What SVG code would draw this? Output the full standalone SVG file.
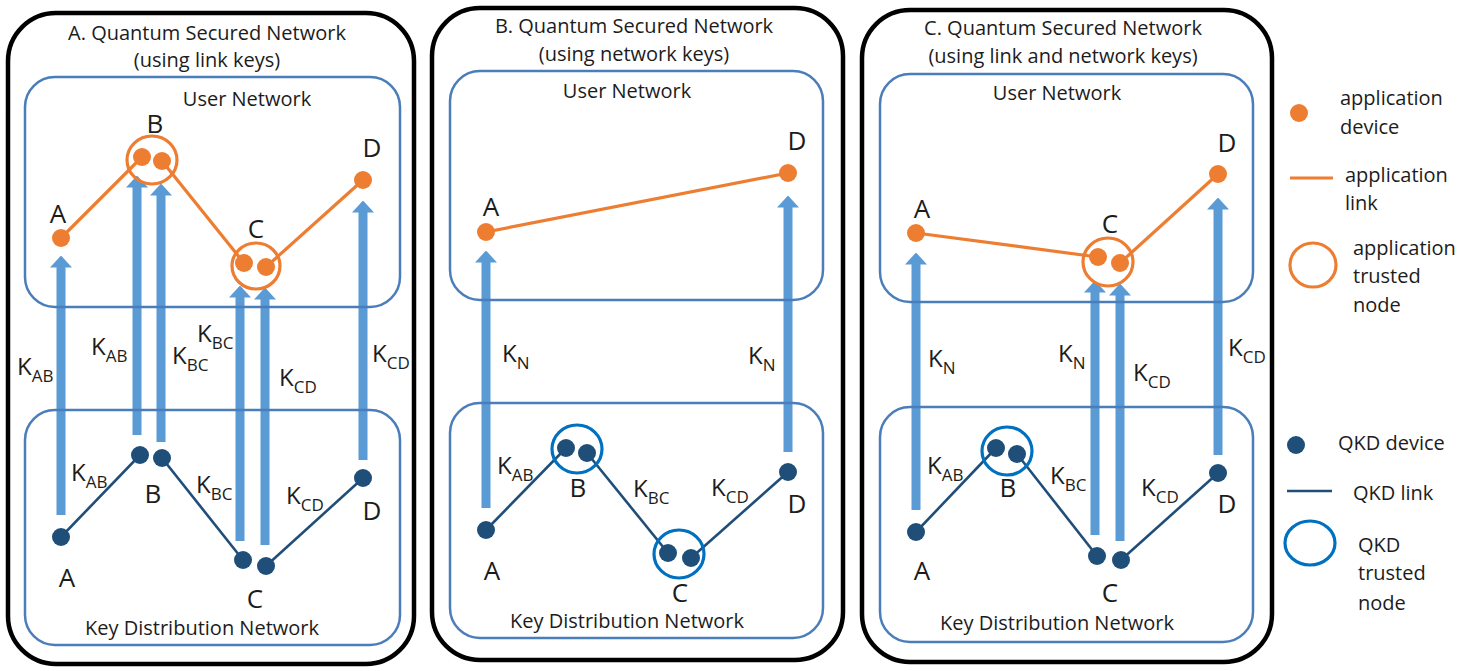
<svg xmlns="http://www.w3.org/2000/svg" width="1460" height="671" viewBox="0 0 1460 671">
  <style>
    text { font-family: "Open Sans", Lato, "Liberation Sans", sans-serif; fill: #1c1c1c; }
    .title { font-size: 20px; text-anchor: middle; }
    .box-label { font-size: 20px; text-anchor: middle; }
    .node-label { font-size: 26px; text-anchor: middle; }
    .key { font-size: 24px; }
    .key tspan { font-size: 17px; }
    .legend { font-size: 20px; }
    .frame { fill: none; stroke: #000; stroke-width: 4.5; }
    .net { fill: none; stroke: #4a7ebb; stroke-width: 2.5; }
    .key-arrow { stroke: #5b9bd5; stroke-width: 9; marker-end: url(#head); }
    .app-link { stroke: #ed7d31; stroke-width: 3.2; fill: none; }
    .qkd-link { stroke: #1f4e79; stroke-width: 2.6; fill: none; }
    .app-dev { fill: #ed7d31; }
    .qkd-dev { fill: #1f4e79; }
    .app-trust { fill: none; stroke: #ed7d31; stroke-width: 3.2; }
    .qkd-trust { fill: none; stroke: #0070c0; stroke-width: 3.2; }
  </style>
  <defs>
    <marker id="head" markerUnits="userSpaceOnUse" viewBox="0 0 12 22" markerWidth="12" markerHeight="22" refX="0.5" refY="11" orient="auto">
      <path d="M0,0 L12,11 L0,22 Z" fill="#5b9bd5"/>
    </marker>
  </defs>
  <rect width="1460" height="671" fill="#fff"/>

  <!-- ===== Panel A: link keys ===== -->
  <g id="panel-a">
    <rect class="frame" x="8" y="13" width="406" height="651" rx="48"/>
    <text class="title" x="207" y="40">A. Quantum Secured Network</text>
    <text class="title" x="207" y="67">(using link keys)</text>
  </g>
  <g id="a-connectors">
    <line class="key-arrow" x1="61" y1="515" x2="61" y2="267"/>
    <line class="key-arrow" x1="137" y1="435" x2="137" y2="187"/>
    <line class="key-arrow" x1="161" y1="442" x2="161" y2="195"/>
    <line class="key-arrow" x1="240" y1="541" x2="240" y2="297"/>
    <line class="key-arrow" x1="265" y1="545" x2="265" y2="299"/>
    <line class="key-arrow" x1="363" y1="460" x2="363" y2="212"/>
    <polyline class="app-link" points="61,238 142,157"/>
    <polyline class="app-link" points="162,161 244,263"/>
    <polyline class="app-link" points="266,267 363,180"/>
    <polyline class="qkd-link" points="61,537 140,455"/>
    <polyline class="qkd-link" points="162,458 243,560"/>
    <polyline class="qkd-link" points="266,566 363,478"/>
    <text class="key" x="17" y="375">K<tspan dy="7">AB</tspan></text>
    <text class="key" x="91" y="355">K<tspan dy="7">AB</tspan></text>
    <text class="key" x="172" y="364">K<tspan dy="7">BC</tspan></text>
    <text class="key" x="197" y="342">K<tspan dy="7">BC</tspan></text>
    <text class="key" x="279" y="386">K<tspan dy="7">CD</tspan></text>
    <text class="key" x="372" y="362">K<tspan dy="7">CD</tspan></text>
    <text class="key" x="71" y="481">K<tspan dy="7">AB</tspan></text>
    <text class="key" x="196" y="493">K<tspan dy="7">BC</tspan></text>
    <text class="key" x="286" y="504">K<tspan dy="7">CD</tspan></text>
  </g>
  <g id="a-user-network">
    <rect class="net" x="25" y="77" width="375" height="230" rx="30"/>
    <text class="box-label" x="247" y="106">User Network</text>
  </g>
  <g id="a-key-network">
    <rect class="net" x="25" y="410" width="375" height="235" rx="30"/>
    <text class="box-label" x="202" y="635">Key Distribution Network</text>
  </g>
  <g id="a-app-A"><circle class="app-dev" cx="61" cy="238" r="9"/><text class="node-label" x="58" y="223">A</text></g>
  <g id="a-app-B"><circle class="app-dev" cx="142" cy="157" r="9"/><circle class="app-dev" cx="162" cy="161" r="9"/><ellipse class="app-trust" cx="152" cy="160" rx="25" ry="24"/><text class="node-label" x="155" y="133">B</text></g>
  <g id="a-app-C"><circle class="app-dev" cx="244" cy="263" r="9"/><circle class="app-dev" cx="266" cy="267" r="9"/><ellipse class="app-trust" cx="256" cy="266" rx="24" ry="23"/><text class="node-label" x="256" y="238">C</text></g>
  <g id="a-app-D"><circle class="app-dev" cx="363" cy="180" r="9"/><text class="node-label" x="372" y="157">D</text></g>
  <g id="a-qkd-A"><circle class="qkd-dev" cx="61" cy="537" r="9"/><text class="node-label" x="67" y="587">A</text></g>
  <g id="a-qkd-B"><circle class="qkd-dev" cx="140" cy="455" r="9"/><circle class="qkd-dev" cx="162" cy="458" r="9"/><text class="node-label" x="153" y="503">B</text></g>
  <g id="a-qkd-C"><circle class="qkd-dev" cx="243" cy="560" r="9"/><circle class="qkd-dev" cx="266" cy="566" r="9"/><text class="node-label" x="255" y="608">C</text></g>
  <g id="a-qkd-D"><circle class="qkd-dev" cx="363" cy="478" r="9"/><text class="node-label" x="372" y="520">D</text></g>

  <!-- ===== Panel B: network keys ===== -->
  <g id="panel-b">
    <rect class="frame" x="432" y="8" width="411" height="652" rx="48"/>
    <text class="title" x="634" y="33">B. Quantum Secured Network</text>
    <text class="title" x="634" y="61">(using network keys)</text>
  </g>
  <g id="b-connectors">
    <line class="key-arrow" x1="486" y1="508" x2="486" y2="262"/>
    <line class="key-arrow" x1="788" y1="452" x2="788" y2="207"/>
    <polyline class="app-link" points="486,232 788,173"/>
    <polyline class="qkd-link" points="486,530 566,448"/>
    <polyline class="qkd-link" points="587,453 668,553"/>
    <polyline class="qkd-link" points="691,558 788,472"/>
    <text class="key" x="502" y="362">K<tspan dy="7">N</tspan></text>
    <text class="key" x="748" y="364">K<tspan dy="7">N</tspan></text>
    <text class="key" x="497" y="474">K<tspan dy="7">AB</tspan></text>
    <text class="key" x="633" y="497">K<tspan dy="7">BC</tspan></text>
    <text class="key" x="711" y="496">K<tspan dy="7">CD</tspan></text>
  </g>
  <g id="b-user-network">
    <rect class="net" x="450" y="71" width="373" height="229" rx="30"/>
    <text class="box-label" x="627" y="98">User Network</text>
  </g>
  <g id="b-key-network">
    <rect class="net" x="450" y="403" width="373" height="235" rx="30"/>
    <text class="box-label" x="627" y="628">Key Distribution Network</text>
  </g>
  <g id="b-app-A"><circle class="app-dev" cx="486" cy="232" r="9"/><text class="node-label" x="491" y="216">A</text></g>
  <g id="b-app-D"><circle class="app-dev" cx="788" cy="173" r="9"/><text class="node-label" x="797" y="150">D</text></g>
  <g id="b-qkd-A"><circle class="qkd-dev" cx="486" cy="530" r="9"/><text class="node-label" x="492" y="580">A</text></g>
  <g id="b-qkd-B"><circle class="qkd-dev" cx="566" cy="448" r="9"/><circle class="qkd-dev" cx="587" cy="453" r="9"/><ellipse class="qkd-trust" cx="577" cy="449" rx="25" ry="24"/><text class="node-label" x="578" y="497">B</text></g>
  <g id="b-qkd-C"><circle class="qkd-dev" cx="668" cy="553" r="9"/><circle class="qkd-dev" cx="691" cy="558" r="9"/><ellipse class="qkd-trust" cx="679" cy="554" rx="25" ry="24"/><text class="node-label" x="680" y="602">C</text></g>
  <g id="b-qkd-D"><circle class="qkd-dev" cx="788" cy="472" r="9"/><text class="node-label" x="797" y="513">D</text></g>

  <!-- ===== Panel C: link and network keys ===== -->
  <g id="panel-c">
    <rect class="frame" x="862" y="10" width="410" height="652" rx="48"/>
    <text class="title" x="1063" y="35">C. Quantum Secured Network</text>
    <text class="title" x="1063" y="63">(using link and network keys)</text>
  </g>
  <g id="c-connectors">
    <line class="key-arrow" x1="916" y1="510" x2="916" y2="264"/>
    <line class="key-arrow" x1="1095" y1="535" x2="1095" y2="292"/>
    <line class="key-arrow" x1="1120" y1="541" x2="1120" y2="295"/>
    <line class="key-arrow" x1="1218" y1="455" x2="1218" y2="209"/>
    <polyline class="app-link" points="916,233 1098,257"/>
    <polyline class="app-link" points="1120,263 1218,174"/>
    <polyline class="qkd-link" points="916,532 996,448"/>
    <polyline class="qkd-link" points="1017,454 1097,556"/>
    <polyline class="qkd-link" points="1121,560 1218,473"/>
    <text class="key" x="928" y="367">K<tspan dy="7">N</tspan></text>
    <text class="key" x="1058" y="362">K<tspan dy="7">N</tspan></text>
    <text class="key" x="1133" y="381">K<tspan dy="7">CD</tspan></text>
    <text class="key" x="1228" y="356">K<tspan dy="7">CD</tspan></text>
    <text class="key" x="927" y="474">K<tspan dy="7">AB</tspan></text>
    <text class="key" x="1050" y="484">K<tspan dy="7">BC</tspan></text>
    <text class="key" x="1141" y="496">K<tspan dy="7">CD</tspan></text>
  </g>
  <g id="c-user-network">
    <rect class="net" x="880" y="74" width="373" height="228" rx="30"/>
    <text class="box-label" x="1057" y="100">User Network</text>
  </g>
  <g id="c-key-network">
    <rect class="net" x="880" y="407" width="373" height="235" rx="30"/>
    <text class="box-label" x="1057" y="630">Key Distribution Network</text>
  </g>
  <g id="c-app-A"><circle class="app-dev" cx="916" cy="233" r="9"/><text class="node-label" x="922" y="218">A</text></g>
  <g id="c-app-C"><circle class="app-dev" cx="1098" cy="257" r="9"/><circle class="app-dev" cx="1120" cy="263" r="9"/><ellipse class="app-trust" cx="1108" cy="262" rx="25" ry="24"/><text class="node-label" x="1110" y="233">C</text></g>
  <g id="c-app-D"><circle class="app-dev" cx="1218" cy="174" r="9"/><text class="node-label" x="1227" y="152">D</text></g>
  <g id="c-qkd-A"><circle class="qkd-dev" cx="916" cy="532" r="9"/><text class="node-label" x="922" y="580">A</text></g>
  <g id="c-qkd-B"><circle class="qkd-dev" cx="996" cy="448" r="9"/><circle class="qkd-dev" cx="1017" cy="454" r="9"/><ellipse class="qkd-trust" cx="1007" cy="451" rx="25" ry="24"/><text class="node-label" x="1008" y="497">B</text></g>
  <g id="c-qkd-C"><circle class="qkd-dev" cx="1097" cy="556" r="9"/><circle class="qkd-dev" cx="1121" cy="560" r="9"/><text class="node-label" x="1110" y="602">C</text></g>
  <g id="c-qkd-D"><circle class="qkd-dev" cx="1218" cy="473" r="9"/><text class="node-label" x="1227" y="513">D</text></g>

  <!-- ===== Legend ===== -->
  <g id="legend">
    <circle class="app-dev" cx="1299" cy="113" r="9"/>
    <text class="legend" x="1340" y="105">application</text>
    <text class="legend" x="1340" y="134">device</text>
    <line class="app-link" x1="1290" y1="178" x2="1333" y2="178"/>
    <text class="legend" x="1345" y="182">application</text>
    <text class="legend" x="1345" y="210">link</text>
    <ellipse class="app-trust" cx="1313" cy="265" rx="23" ry="22"/>
    <text class="legend" x="1353" y="255">application</text>
    <text class="legend" x="1353" y="283">trusted</text>
    <text class="legend" x="1353" y="312">node</text>
    <circle class="qkd-dev" cx="1296" cy="445" r="9"/>
    <text class="legend" x="1338" y="450">QKD device</text>
    <line class="qkd-link" x1="1287" y1="491" x2="1332" y2="491"/>
    <text class="legend" x="1353" y="500">QKD link</text>
    <ellipse class="qkd-trust" cx="1310" cy="543" rx="25" ry="22"/>
    <text class="legend" x="1358" y="552">QKD</text>
    <text class="legend" x="1358" y="580">trusted</text>
    <text class="legend" x="1358" y="610">node</text>
  </g>
</svg>
